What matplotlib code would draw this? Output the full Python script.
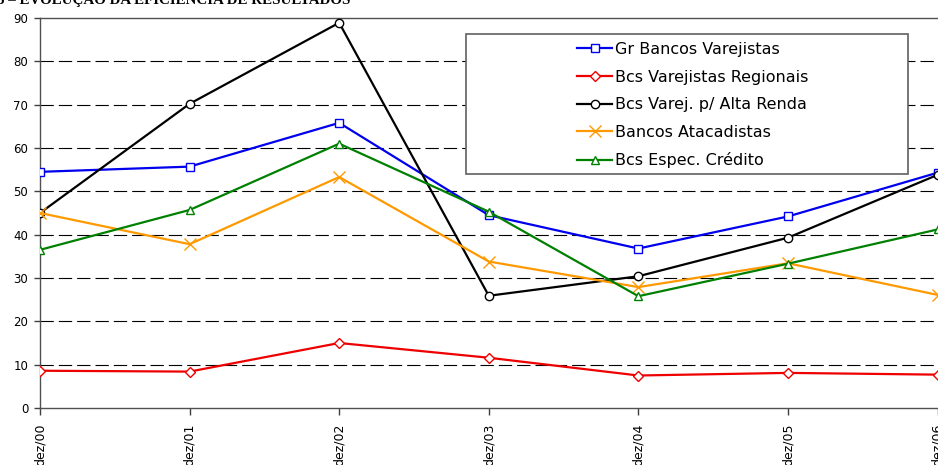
import matplotlib
matplotlib.use("Agg")
import matplotlib.pyplot as plt
from matplotlib.patches import Rectangle

# eficiencia de resultados por grupo de bancos
periods = ["dez/00", "dez/01", "dez/02", "dez/03", "dez/04", "dez/05", "dez/06"]
gr_varejistas = [54.5, 55.7, 65.8, 44.5, 36.8, 44.2, 54.3]
varej_regionais = [8.6, 8.4, 15.0, 11.6, 7.5, 8.1, 7.7]
varej_alta_renda = [45.0, 70.2, 88.9, 25.9, 30.4, 39.3, 53.8]
atacadistas = [45.0, 37.8, 53.3, 33.8, 27.9, 33.4, 26.1]
espec_credito = [36.5, 45.7, 61.0, 45.3, 25.8, 33.3, 41.2]

plt.rcParams['font.family'] = ['DejaVu Sans']

fig = plt.figure(figsize=(9.38, 4.65), dpi=100)
ax = fig.add_axes([40 / 938, 57 / 465, 1 - 40 / 938, 390 / 465])

xs = list(range(len(periods)))
lw = 1.6
ms = 6
ax.plot(xs, gr_varejistas, color="#0000ee", lw=lw, marker="s", ms=ms,
        mfc="white", mec="#0000ee", mew=1, label="Gr Bancos Varejistas", zorder=3)
ax.plot(xs, varej_regionais, color="#ee0000", lw=lw, marker="D", ms=5,
        mfc="white", mec="#ee0000", mew=1, label="Bcs Varejistas Regionais", zorder=3)
ax.plot(xs, varej_alta_renda, color="black", lw=lw, marker="o", ms=ms,
        mfc="white", mec="black", mew=1, label="Bcs Varej. p/ Alta Renda", zorder=3)
ax.plot(xs, atacadistas, color="#ff9900", lw=lw, marker="x", ms=8,
        mec="#ff9900", mew=1, label="Bancos Atacadistas", zorder=3)
ax.plot(xs, espec_credito, color="#008000", lw=lw, marker="^", ms=ms,
        mfc="white", mec="#008000", mew=1, label="Bcs Espec. Crédito", zorder=3)

ax.set_xlim(0, 6.003)
ax.set_ylim(0, 90)
ax.set_yticks(range(0, 91, 10))
ax.set_xticks(xs)
ax.set_xticklabels(periods, rotation=90, fontsize=9, va="top", ha="center")
ax.tick_params(axis="x", length=5, width=1, pad=6.5, color="#404040")
ax.tick_params(axis="y", length=4, width=1, labelsize=8.5, pad=4.5, color="#404040")

for y in range(10, 90, 10):
    ax.axhline(y, color="black", lw=0.8, ls=(0, (12, 4.5)), zorder=1)

ax.spines["right"].set_visible(False)
for s in ["left", "bottom", "top"]:
    ax.spines[s].set_color("#505050")
    ax.spines[s].set_linewidth(1)

# moldura da legenda (estilo Excel, mais larga que o conteudo)
fx0, fy0 = 466 / 938, 1 - 174 / 465
fw, fh = (908 - 466) / 938, (174 - 34) / 465
fig.patches.append(Rectangle((fx0, fy0), fw, fh, transform=fig.transFigure,
                             fill=True, facecolor="white", edgecolor="#606060",
                             lw=1.2, zorder=5))
leg = fig.legend(loc="upper left", bbox_to_anchor=(565 / 938, 1 - 30 / 465),
                 frameon=False, fontsize=11.5, handlelength=2.2,
                 handletextpad=0.15, labelspacing=0.79, borderpad=0.25)
leg.set_zorder(6)

fig.text(-3 / 938, 1 - 4 / 465, "5 – EVOLUÇÃO DA EFICIÊNCIA DE RESULTADOS",
         family="Liberation Serif", fontweight="bold", fontsize=10.8,
         ha="left", va="baseline")

fig.savefig("out.png", dpi=100)
